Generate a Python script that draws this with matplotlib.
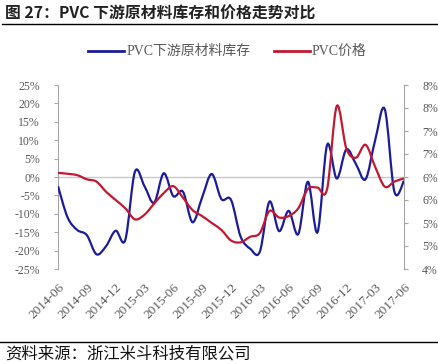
import numpy as np
import matplotlib
matplotlib.use("Agg")
import matplotlib.pyplot as plt
from matplotlib.path import Path
from matplotlib.patches import PathPatch
from matplotlib.lines import Line2D

# monthly data 2014-06 .. 2017-06
tick_labels = ["2014-06", "2014-09", "2014-12", "2015-03", "2015-06", "2015-09",
               "2015-12", "2016-03", "2016-06", "2016-09", "2016-12", "2017-03", "2017-06"]

stock = [-2.5, -11.0, -14.4, -15.8, -21.0, -18.8, -14.6, -17.1, 1.4, -2.5,
         -7.0, 1.0, -5.2, -4.0, -12.3, -5.5, 0.8, -6.0, -6.2, -16.2,
         -19.5, -20.3, -6.7, -14.7, -9.2, -15.5, -1.3, -15.0, 8.7, -0.4,
         7.5, 3.5, -0.6, 10.0, 18.4, -4.0, -1.0]

price = [6.09, 6.07, 6.04, 5.95, 5.90, 5.68, 5.50, 5.32, 5.08, 5.18,
         5.42, 5.65, 5.80, 5.55, 5.28, 5.15, 5.00, 4.85, 4.62, 4.58,
         4.70, 4.78, 5.26, 5.12, 5.15, 5.32, 5.74, 5.77, 5.74, 7.54,
         6.62, 6.42, 6.70, 6.22, 5.79, 5.90, 5.97]

blue = "#1c1c9a"
red = "#c41832"
grey = "#595959"


def smooth_path(x, y):
    # excel-style smoothed line as bezier segments
    x = np.asarray(x, float)
    y = np.asarray(y, float)
    n = len(x)
    verts = [(x[0], y[0])]
    codes = [Path.MOVETO]
    for i in range(n - 1):
        i0 = max(i - 1, 0)
        i3 = min(i + 2, n - 1)
        c1 = (x[i] + (x[i + 1] - x[i0]) / 6, y[i] + (y[i + 1] - y[i0]) / 6)
        c2 = (x[i + 1] - (x[i3] - x[i]) / 6, y[i + 1] - (y[i3] - y[i]) / 6)
        verts += [c1, c2, (x[i + 1], y[i + 1])]
        codes += [Path.CURVE4] * 3
    return Path(verts, codes)


serif = ["Liberation Serif", "Noto Sans CJK SC"]
cjk = ["Noto Sans CJK SC", "DejaVu Sans"]

fig = plt.figure(figsize=(4.39, 3.64), dpi=100)
ax = fig.add_axes([58 / 439, 1 - 269 / 364, (404 - 58) / 439, (269 - 85) / 364])
ax2 = ax.twinx()

x = np.arange(len(stock))
ax.axhline(0, color="#c8c8c8", lw=1, zorder=1)
ax.add_patch(PathPatch(smooth_path(x, stock), fill=False, edgecolor=blue, lw=1.6, zorder=3))
ax2.add_patch(PathPatch(smooth_path(x, price), fill=False, edgecolor=red, lw=1.6, zorder=3))

ax.set_xlim(0, len(stock) - 1)
ax.set_ylim(-25, 25)
ax2.set_ylim(4, 8)

yt = np.arange(-25, 26, 5)
ax.set_yticks(yt)
ax.set_yticklabels(["%d%%" % v for v in yt], family=serif, fontsize=8.5, color=grey)
yt2 = np.arange(4, 8.01, 0.5)
ax2.set_yticks(yt2)
ax2.set_yticklabels(["%d%%" % int(np.floor(v + 0.5)) for v in yt2], family=serif,
                    fontsize=8.5, color=grey)

ax.set_xticks(np.arange(0, len(stock), 3))
ax.set_xticklabels(tick_labels, family=serif, fontsize=9.5, color=grey,
                   rotation=45, ha="right", rotation_mode="anchor")

for a in (ax, ax2):
    for s in ("top", "bottom"):
        a.spines[s].set_visible(False)
ax.spines["right"].set_visible(False)
ax2.spines["left"].set_visible(False)
ax.spines["left"].set_color("#a6a6a6")
ax2.spines["right"].set_color("#a6a6a6")
ax.tick_params(axis="y", length=3, color="#a6a6a6", pad=10)
ax2.tick_params(axis="y", length=3, color="#a6a6a6", pad=10)
ax.tick_params(axis="x", length=0, pad=9)

# legend
fig.add_artist(Line2D([88 / 439, 124 / 439], [1 - 51 / 364] * 2, color=blue, lw=2))
fig.text(127 / 439, 1 - 51 / 364, "PVC下游原材料库存", family=serif, fontsize=10,
         color=grey, va="center")
fig.add_artist(Line2D([274 / 439, 310 / 439], [1 - 51 / 364] * 2, color=red, lw=2))
fig.text(312 / 439, 1 - 51 / 364, "PVC价格", family=serif, fontsize=10,
         color=grey, va="center")

# title and source
fig.text(5 / 439, 1 - 14 / 364, "图 27：PVC 下游原材料库存和价格走势对比", family=cjk,
         fontsize=11.4, fontweight="bold", color="#222222", va="center")
fig.add_artist(Line2D([2 / 439, 437 / 439], [1 - 24 / 364] * 2, color="black", lw=1))
fig.add_artist(Line2D([0, 437 / 439], [1 - 342 / 364] * 2, color="black", lw=1))
fig.text(5 / 439, 1 - 354 / 364, "资料来源：浙江米斗科技有限公司", family=cjk,
         fontsize=11.8, color="#111111", va="center")

fig.savefig("out.png", dpi=100)
